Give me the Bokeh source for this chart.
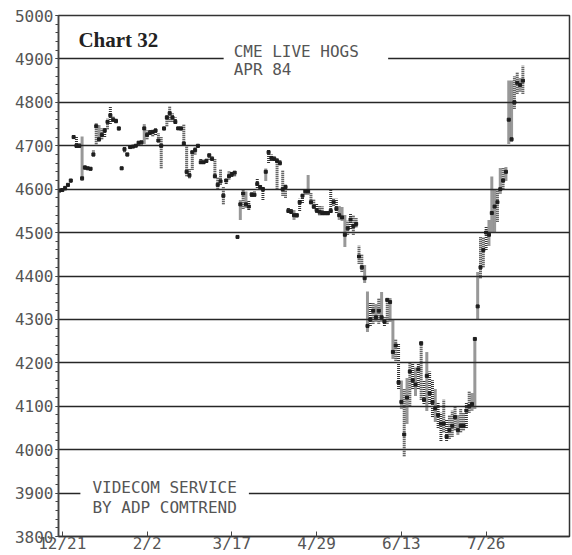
from bokeh.plotting import figure
from bokeh.models import Label, FixedTicker, Range1d
from bokeh.embed import file_html
from bokeh.resources import INLINE

# Daily bars, CME Live Hogs April 1984 (index = trading day from 12/21)
highs = [4600, 4602, 4605, 4612, 4622, 4725, 4722, 4705, 4722, 4655,
         4652, 4650, 4690, 4752, 4748, 4740, 4742, 4762, 4790, 4768,
         4762, 4745, 4652, 4698, 4685, 4700, 4700, 4703, 4710, 4712,
         4750, 4735, 4738, 4735, 4740, 4728, 4720, 4745, 4772, 4792,
         4775, 4765, 4745, 4745, 4750, 4700, 4648, 4690, 4698, 4702,
         4672, 4668, 4670, 4682, 4675, 4670, 4628, 4645, 4605, 4625,
         4642, 4640, 4642, 4493, 4575, 4600, 4595, 4575, 4592, 4595,
         4625, 4612, 4605, 4648, 4692, 4680, 4675, 4672, 4668, 4645,
         4610, 4558, 4556, 4552, 4545, 4578, 4590, 4600, 4632, 4592,
         4578, 4568, 4562, 4560, 4550, 4550, 4598, 4580, 4578, 4562,
         4560, 4540, 4528, 4545, 4540, 4535, 4470, 4450, 4425, 4365,
         4340, 4338, 4335, 4348, 4362, 4305, 4350, 4350, 4300, 4255,
         4245, 4160, 4140, 4165, 4200, 4200, 4190, 4200, 4250, 4160,
         4225, 4180, 4160, 4140, 4110, 4085, 4115, 4070, 4080, 4090,
         4100, 4080, 4095, 4085, 4110, 4135, 4130, 4258, 4410, 4490,
         4490, 4515, 4530, 4630, 4600, 4600, 4650, 4650, 4650, 4850,
         4850, 4860, 4870, 4855, 4885]
lows = [4593, 4595, 4597, 4605, 4615, 4717, 4695, 4695, 4620, 4645,
        4645, 4643, 4675, 4700, 4710, 4715, 4720, 4738, 4750, 4755,
        4752, 4735, 4645, 4685, 4675, 4693, 4695, 4697, 4703, 4703,
        4705, 4715, 4725, 4722, 4725, 4708, 4648, 4735, 4745, 4755,
        4755, 4750, 4737, 4735, 4700, 4630, 4625, 4645, 4680, 4695,
        4658, 4658, 4660, 4668, 4665, 4625, 4600, 4610, 4565, 4612,
        4622, 4628, 4630, 4487, 4530, 4555, 4558, 4552, 4582, 4583,
        4598, 4598, 4575, 4620, 4660, 4665, 4665, 4600, 4655, 4585,
        4580, 4545, 4543, 4530, 4535, 4550, 4568, 4588, 4588, 4565,
        4555, 4545, 4540, 4540, 4540, 4540, 4545, 4562, 4545, 4530,
        4528, 4468, 4495, 4508, 4495, 4512, 4428, 4410, 4385, 4272,
        4285, 4290, 4295, 4290, 4295, 4285, 4290, 4295, 4210, 4205,
        4140, 4095, 3985, 4060, 4100, 4140, 4125, 4140, 4115, 4105,
        4090, 4105, 4075, 4065, 4050, 4020, 4040, 4020, 4025, 4030,
        4045, 4035, 4040, 4045, 4050, 4085, 4090, 4095, 4300, 4395,
        4420, 4460, 4470, 4500, 4500, 4525, 4590, 4600, 4620, 4705,
        4710, 4785, 4820, 4825, 4820]
closes = [4597, 4598, 4603, 4610, 4620, 4720, 4700, 4700, 4625, 4650,
          4648, 4647, 4680, 4745, 4715, 4725, 4735, 4755, 4770, 4760,
          4757, 4740, 4648, 4692, 4680, 4697, 4698, 4700, 4707, 4708,
          4740, 4725, 4730, 4732, 4735, 4712, 4700, 4740, 4765, 4775,
          4765, 4755, 4740, 4740, 4705, 4640, 4632, 4685, 4690, 4700,
          4662, 4662, 4665, 4678, 4670, 4630, 4610, 4618, 4585, 4620,
          4630, 4635, 4638, 4490, 4565, 4590, 4565, 4560, 4588, 4587,
          4612, 4605, 4600, 4640, 4685, 4672, 4670, 4665, 4660, 4600,
          4605, 4550, 4548, 4540, 4540, 4570, 4585, 4595, 4595, 4570,
          4560, 4552, 4548, 4545, 4545, 4545, 4550, 4570, 4555, 4540,
          4535, 4495, 4510, 4530, 4515, 4520, 4445, 4420, 4395, 4285,
          4300, 4320, 4305, 4320, 4305, 4295, 4345, 4340, 4225, 4240,
          4155, 4110, 4035, 4120, 4180, 4160, 4150, 4185, 4245, 4115,
          4170, 4130, 4110, 4095, 4080, 4060, 4060, 4030, 4045, 4055,
          4075, 4045, 4055, 4055, 4090, 4100, 4105, 4255, 4330, 4420,
          4460, 4500, 4495, 4545, 4560, 4570, 4600, 4620, 4640, 4760,
          4715, 4800, 4845, 4840, 4850]
days = list(range(len(highs)))

date_ticks = [1, 31, 61, 91, 121, 151]
date_labels = ["12/21", "2/2", "3/17", "4/29", "6/13", "7/26"]
price_ticks = list(range(3800, 5001, 100))
price_labels = [str(v) for v in price_ticks]

title_text = "Chart 32"
contract_text = "CME LIVE HOGS  \nAPR 84"
source_text = "VIDECOM SERVICE\nBY ADP COMTREND"

MONO = "DejaVu Sans Mono"

p = figure(width=572, height=555, x_range=Range1d(-0.35, 180.5),
           y_range=Range1d(3800, 5000), output_backend="svg",
           toolbar_location=None, min_border_left=58, min_border_right=3,
           min_border_top=15, min_border_bottom=18)
p.background_fill_color = "white"
p.border_fill_color = "white"
p.outline_line_color = "#333333"
p.outline_line_width = 1.5

p.xgrid.visible = False
p.ygrid.grid_line_color = "#262626"
p.ygrid.grid_line_width = 1.7

p.yaxis.ticker = FixedTicker(ticks=price_ticks, minor_ticks=list(range(3800, 5001, 20)))
p.yaxis.major_label_overrides = dict(zip(price_ticks, price_labels))
p.yaxis.major_tick_out = 3
p.yaxis.major_tick_in = 0
p.yaxis.minor_tick_out = 3
p.yaxis.minor_tick_in = 0
p.yaxis.major_label_standoff = 2
p.yaxis.axis_line_color = "#444444"
p.yaxis.axis_line_width = 1.5
p.yaxis.major_tick_line_color = "#444444"
p.yaxis.minor_tick_line_color = "#444444"

p.xaxis.ticker = FixedTicker(ticks=date_ticks, minor_ticks=[])
p.xaxis.major_label_overrides = dict(zip(date_ticks, date_labels))
p.xaxis.major_tick_in = 5
p.xaxis.major_tick_out = 0
p.xaxis.major_label_standoff = -3
p.xaxis.axis_line_color = "#333333"
p.xaxis.axis_line_width = 1.5
p.xaxis.major_tick_line_color = "#444444"

for ax in (p.xaxis, p.yaxis):
    ax.major_label_text_font = MONO
    ax.major_label_text_font_size = "16px"
    ax.major_label_text_color = "#555555"

# high-low bars, dot-matrix style
p.segment(x0=days, y0=lows, x1=days, y1=highs, line_color="#333333",
          line_width=3, line_dash="1 1")
# close marks
p.scatter(x=days, y=closes, marker="square", size=3, color="#1e1e1e")

p.add_layout(Label(x=6.7, y=4944, text=title_text, text_font="Liberation Serif",
                   text_font_style="bold", text_font_size="21px", text_color="#222222",
                   text_baseline="alphabetic"))
p.add_layout(Label(x=58.1, y=4963, text=contract_text, text_font=MONO,
                   text_font_size="16px", text_color="#555555", text_baseline="top",
                   text_line_height=0.96, background_fill_color="white", padding=10))
p.add_layout(Label(x=7.4, y=3963, text=source_text, text_font=MONO,
                   text_font_size="16px", text_color="#555555", text_baseline="top",
                   text_line_height=1.07, background_fill_color="white", padding=12))

open("out.html", "w").write(file_html(p, INLINE))
